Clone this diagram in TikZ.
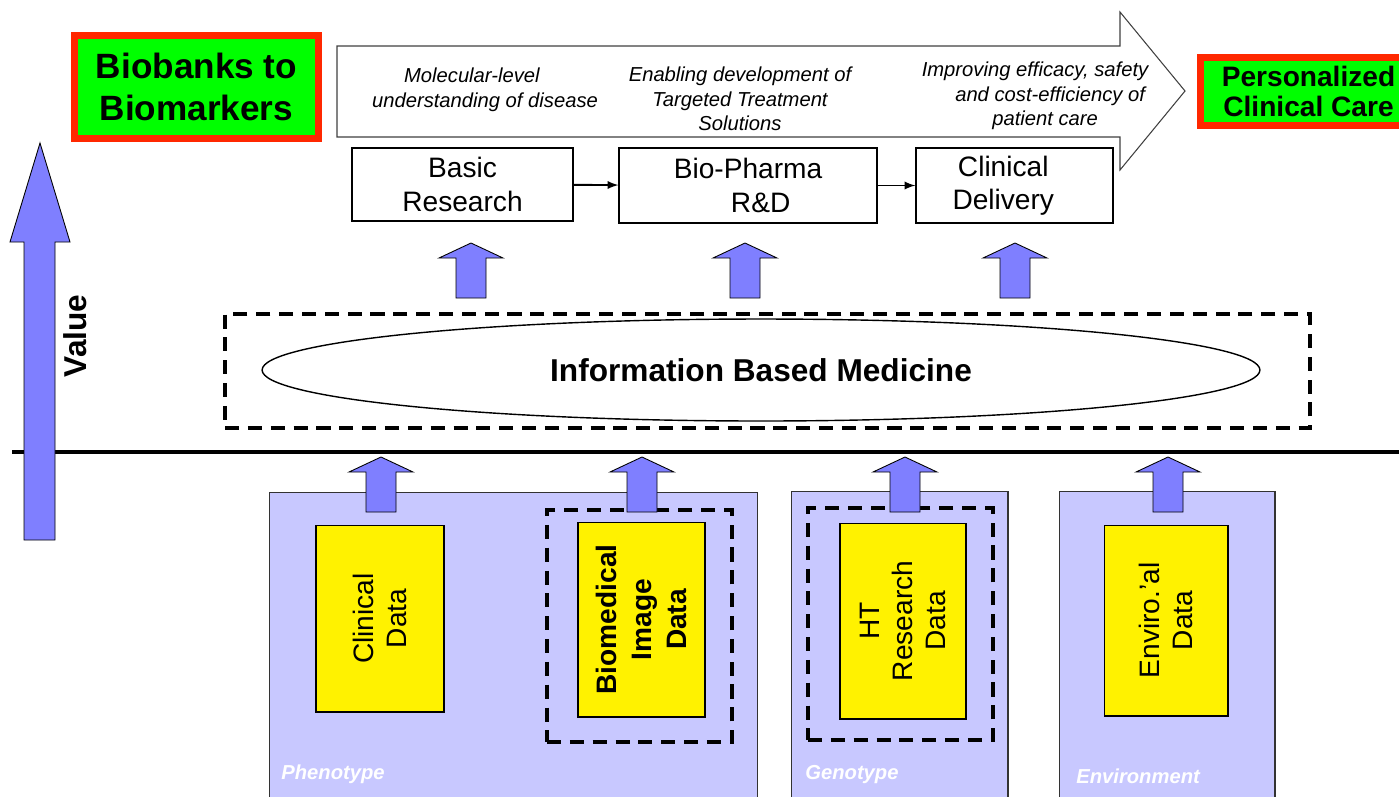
\documentclass[tikz,border=0pt]{standalone}
\usepackage{fontspec}
\setmainfont{Liberation Sans}
\usetikzlibrary{positioning,shapes.geometric}
\definecolor{arrowblue}{RGB}{127,127,255}
\definecolor{lavender}{RGB}{200,200,255}
\definecolor{boxred}{RGB}{255,40,0}
\definecolor{boxgreen}{RGB}{0,255,0}

\begin{document}
\begin{tikzpicture}[x=0.02cm, y=-0.02cm,
  every node/.style={inner sep=0pt, font=\fontsize{16}{19}\selectfont},
  stage/.style={draw, line width=0.8pt, fill=white, align=center},
  goal/.style={draw=boxred, fill=boxgreen, line width=3.5pt, align=center},
  note/.style={align=center, font=\fontsize{11.5}{14}\selectfont\itshape},
  source/.style={draw=black!80, line width=0.6pt, fill=lavender},
  datum/.style={draw, line width=0.6pt, fill=yellow, rotate=90, align=center},
  frame/.style={draw, line width=2.3pt, dash pattern=on 8pt off 5pt},
  kind/.style={anchor=base west, text=white, font=\fontsize{11.5}{14}\selectfont\bfseries\itshape},
  pics/blockup/.style={code={\draw[fill=arrowblue, line width=0.5pt] (-15,55) -- (-15,15) -- (-32,15) -- (0,0) -- (32,15) -- (15,15) -- (15,55) -- cycle;}}
]
\useasboundingbox (0,0) rectangle (1399,796);

\node[goal, minimum width=4.88cm, minimum height=2.06cm, font=\fontsize{20}{24}\selectfont\bfseries] (bio) at (196.5,87) {Biobanks to\\Biomarkers};
\node[goal, minimum width=4.32cm, minimum height=1.36cm, font=\fontsize{16}{17.5}\selectfont\bfseries] (care) at (1308.5,91.5) {Personalized\\Clinical Care};

\draw[line width=0.6pt, draw=black!75, fill=white] (337,46) -- (1120,46) -- (1120,12) -- (1185,91) -- (1120,170) -- (1120,137) -- (337,137) -- cycle;
\node[note] (n1) at (485,90) {Molecular-level\hspace*{1.3em}\\understanding of disease};
\node[note] (n2) at (740,99) {Enabling development of\\Targeted Treatment\\Solutions};
\node[note] (n3) at (1035,96) {Improving efficacy, safety\\\hspace*{1.5em}and cost-efficiency of\\\hspace*{1em}patient care};

\node[stage, minimum width=4.42cm, minimum height=1.46cm] (basic) at (462.5,184.5) {Basic\\Research};
\node[stage, minimum width=5.16cm, minimum height=1.5cm] (pharma) at (748,185.5) {Bio-Pharma\\\hspace*{0.9em}R\&D};
\node[stage, minimum width=3.94cm, minimum height=1.5cm] (clin) at (1014.5,185.5) {Clinical\hspace*{0.8em}\\Delivery\hspace*{0.8em}};
\draw[->, >=latex, line width=1.1pt] (basic) -- (pharma);
\draw[->, >=latex, line width=1.1pt] (pharma) -- (clin);

\pic at (471,243) {blockup};
\pic at (745,243) {blockup};
\pic at (1015,243) {blockup};

\node[frame, minimum width=21.7cm, minimum height=2.28cm] (ibmframe) at (767.5,371) {};
\node[ellipse, draw, line width=0.8pt, fill=white, minimum width=19.96cm, minimum height=2.04cm, font=\fontsize{18}{22}\selectfont\bfseries] (ibm) at (761,370) {Information Based Medicine};

\draw[line width=2.8pt] (12,452) -- (1399,452);
\draw[fill=arrowblue, line width=0.5pt] (24,540) -- (24,242) -- (10,242) -- (40,143) -- (70,242) -- (55,242) -- (55,540) -- cycle;
\node[rotate=90, font=\fontsize{18}{22}\selectfont\bfseries] (value) at (75,336) {Value};

\node[source, minimum width=9.78cm, minimum height=6.16cm] (pheno) at (513.5,646) {};
\node[source, minimum width=4.34cm, minimum height=6.18cm] (geno) at (899.5,645.5) {};
\node[source, minimum width=4.32cm, minimum height=6.18cm] (env) at (1167,645.5) {};
\node[kind] (phenolabel) at (281,779) {Phenotype};
\node[kind] (genolabel) at (805,779) {Genotype};
\node[kind] (envlabel) at (1076,783) {Environment};

\node[frame, minimum width=3.7cm, minimum height=4.64cm] (imgframe) at (639.5,626) {};
\node[frame, minimum width=3.7cm, minimum height=4.64cm] (htframe) at (900.5,624) {};

\node[datum, minimum width=3.74cm, minimum height=2.56cm, font=\fontsize{16}{19}\selectfont] (clindata) at (380,618.5) {Clinical\\Data};
\node[datum, minimum width=3.9cm, minimum height=2.54cm, font=\fontsize{16}{20}\selectfont\bfseries] (imgdata) at (641.5,619.5) {Biomedical\\Image\\Data};
\node[datum, minimum width=3.92cm, minimum height=2.52cm, font=\fontsize{16}{19}\selectfont] (htdata) at (903,621) {HT\\Research\\Data};
\node[datum, minimum width=3.82cm, minimum height=2.48cm, font=\fontsize{16}{19}\selectfont] (envdata) at (1166,620.5) {Enviro.'al\\Data};

\pic at (381,457) {blockup};
\pic at (642,457) {blockup};
\pic at (905,457) {blockup};
\pic at (1168,457) {blockup};
\end{tikzpicture}
\end{document}
